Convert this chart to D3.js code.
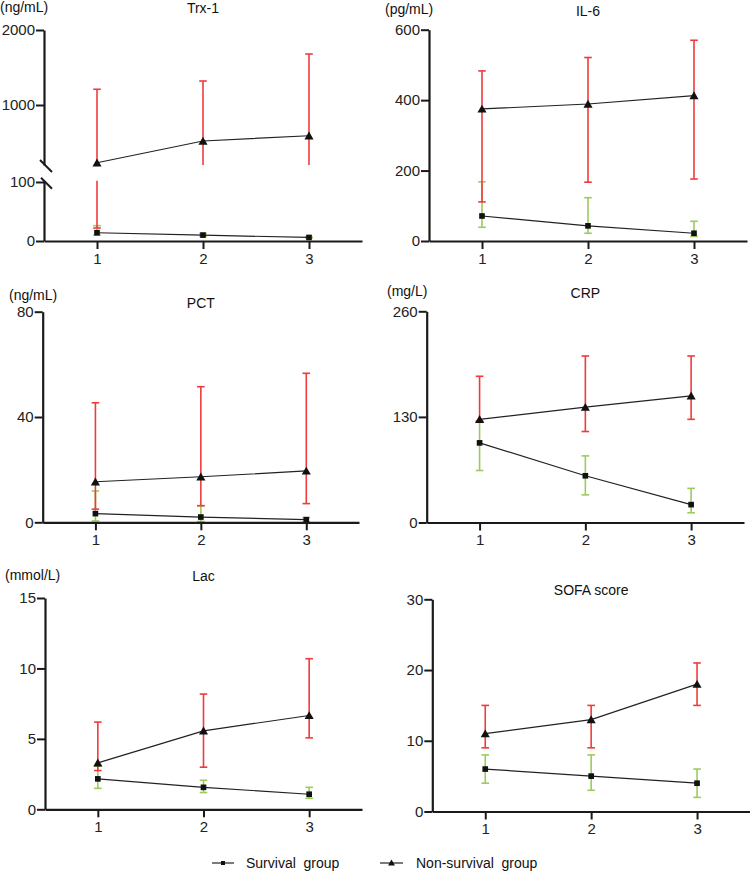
<!DOCTYPE html>
<html><head><meta charset="utf-8">
<script src="https://cdn.jsdelivr.net/npm/d3@7/dist/d3.min.js"></script>
<style>
body{margin:0;background:#fff;}
svg{display:block;font-family:"Liberation Sans",Arial,Helvetica,sans-serif;}
</style></head><body>
<svg id="chart" width="750" height="872"></svg>
<script>
// ---------- DATA ----------
const timePoints = [1, 2, 3];
const xTickLabels = ["1", "2", "3"];
const legendLabels = ["Survival  group", "Non-survival  group"];

// Trx-1 (ng/mL)
const trxSurv = [14, 10, 6];
const trxSurvHi = [26, 13, 7];
const trxSurvLo = [10, 8, 5];
const trxNon = [230, 520, 590];
const trxNonHi = [1210, 1320, 1680];
const trxNonLo = [22, 150, 160];
const trxTicksUpper = [1000, 2000];
const trxTicksLower = [0, 100];

// IL-6 (pg/mL)
const il6Surv = [71, 43, 22];
const il6SurvHi = [168, 123, 56];
const il6SurvLo = [39, 22, 13];
const il6Non = [375, 389, 413];
const il6NonHi = [483, 521, 570];
const il6NonLo = [111, 167, 176];
const il6Ticks = [0, 200, 400, 600];

// PCT (ng/mL)
const pctSurv = [3.3, 2.0, 1.0];
const pctSurvHi = [11.9, 6.3, 1.8];
const pctSurvLo = [0.5, 0.3, 0.2];
const pctNon = [15.4, 17.3, 19.5];
const pctNonHi = [45.4, 51.5, 56.6];
const pctNonLo = [5.0, 6.3, 7.1];
const pctTicks = [0, 40, 80];

// CRP (mg/L)
const crpSurv = [98, 57.5, 22];
const crpSurvHi = [124, 82, 42];
const crpSurvLo = [64, 34, 12];
const crpNon = [127, 142, 156];
const crpNonHi = [180, 205, 205];
const crpNonLo = [125, 112, 127];
const crpTicks = [0, 130, 260];

// Lac (mmol/L)
const lacSurv = [2.16, 1.56, 1.07];
const lacSurvHi = [3.06, 2.06, 1.56];
const lacSurvLo = [1.49, 1.19, 0.78];
const lacNon = [3.3, 5.57, 6.66];
const lacNonHi = [6.19, 8.18, 10.69];
const lacNonLo = [2.75, 2.99, 5.07];
const lacTicks = [0, 5, 10, 15];

// SOFA score
const sofaSurv = [6, 5, 4];
const sofaSurvHi = [8, 8, 6];
const sofaSurvLo = [4, 3, 2];
const sofaNon = [11, 13, 18];
const sofaNonHi = [15, 15, 21];
const sofaNonLo = [9, 9, 15];
const sofaTicks = [0, 10, 20, 30];

// ---------- STYLE ----------
const RED = "#ef3b3b";
const GREEN = "#9bcb5c";
const AXIS = "#1a1a1a";
const INK = "#111";

// ---------- PANELS ----------
const panels = [
  { title: "Trx-1", unit: "(ng/mL)", unitX: 0, unitY: 12, titleY: 13,
    x0: 44, x1: 362,
    segments: [
      { domain: [0, 102], range: [241, 180.8], ticks: trxTicksLower, breakTop: true },
      { domain: [200, 2000], range: [165, 30], ticks: trxTicksUpper, breakBottom: true }
    ],
    surv: trxSurv, survHi: trxSurvHi, survLo: trxSurvLo,
    non: trxNon, nonHi: trxNonHi, nonLo: trxNonLo },
  { title: "IL-6", unit: "(pg/mL)", unitX: 385, unitY: 14, titleY: 16,
    x0: 429, x1: 747,
    segments: [{ domain: [0, 600], range: [241, 29.7], ticks: il6Ticks }],
    surv: il6Surv, survHi: il6SurvHi, survLo: il6SurvLo,
    non: il6Non, nonHi: il6NonHi, nonLo: il6NonLo },
  { title: "PCT", unit: "(ng/mL)", unitX: 9, unitY: 300, titleY: 308,
    x0: 42.7, x1: 359,
    segments: [{ domain: [0, 80], range: [522.3, 311.7], ticks: pctTicks }],
    surv: pctSurv, survHi: pctSurvHi, survLo: pctSurvLo,
    non: pctNon, nonHi: pctNonHi, nonLo: pctNonLo },
  { title: "CRP", unit: "(mg/L)", unitX: 387, unitY: 296, titleY: 298,
    x0: 426.7, x1: 744,
    segments: [{ domain: [0, 260], range: [522.5, 311.3], ticks: crpTicks }],
    surv: crpSurv, survHi: crpSurvHi, survLo: crpSurvLo,
    non: crpNon, nonHi: crpNonHi, nonLo: crpNonLo },
  { title: "Lac", unit: "(mmol/L)", unitX: 5, unitY: 580, titleY: 581,
    x0: 45, x1: 362,
    segments: [{ domain: [0, 15], range: [809.3, 598], ticks: lacTicks }],
    surv: lacSurv, survHi: lacSurvHi, survLo: lacSurvLo,
    non: lacNon, nonHi: lacNonHi, nonLo: lacNonLo },
  { title: "SOFA score", unit: null, titleY: 595,
    x0: 432.3, x1: 750,
    segments: [{ domain: [0, 30], range: [811.5, 599.3], ticks: sofaTicks }],
    surv: sofaSurv, survHi: sofaSurvHi, survLo: sofaSurvLo,
    non: sofaNon, nonHi: sofaNonHi, nonLo: sofaNonLo }
];

const svg = d3.select("#chart");
const triangle = d3.symbol().type(d3.symbolTriangle).size(36);
const square = d3.symbol().type(d3.symbolSquare).size(32);

function drawPanel(p) {
  const g = svg.append("g");
  const x = d3.scaleLinear().domain([0.5, 3.5]).range([p.x0, p.x1]);
  const segs = p.segments.map(s => Object.assign({}, s, {
    scale: d3.scaleLinear().domain(s.domain).range(s.range)
  }));
  const segOf = v => segs.find(s => v >= s.domain[0] && v <= s.domain[1]) || segs[0];
  const y = v => segOf(v).scale(v);

  function errBars(lo, hi, color) {
    timePoints.forEach((t, i) => {
      const cx = x(t);
      segs.forEach(s => {
        const a = Math.max(lo[i], s.domain[0]), b = Math.min(hi[i], s.domain[1]);
        if (a > b) return;
        g.append("line").attr("x1", cx).attr("x2", cx)
          .attr("y1", s.scale(a)).attr("y2", s.scale(b))
          .attr("stroke", color).attr("stroke-width", 1.6);
        [lo[i], hi[i]].forEach(v => {
          if (v >= s.domain[0] && v <= s.domain[1]) {
            g.append("line").attr("x1", cx - 3.8).attr("x2", cx + 3.8)
              .attr("y1", s.scale(v)).attr("y2", s.scale(v))
              .attr("stroke", color).attr("stroke-width", 1.6);
          }
        });
      });
    });
  }
  errBars(p.survLo, p.survHi, GREEN);
  errBars(p.nonLo, p.nonHi, RED);

  const line = d3.line().x((d, i) => x(timePoints[i])).y(d => y(d));
  g.append("path").attr("d", line(p.surv)).attr("fill", "none")
    .attr("stroke", "#222").attr("stroke-width", 1.2);
  g.append("path").attr("d", line(p.non)).attr("fill", "none")
    .attr("stroke", "#222").attr("stroke-width", 1.2);

  p.surv.forEach((v, i) => {
    g.append("path").attr("d", square())
      .attr("transform", `translate(${x(timePoints[i])},${y(v)})`).attr("fill", INK);
  });
  p.non.forEach((v, i) => {
    g.append("path").attr("d", triangle())
      .attr("transform", `translate(${x(timePoints[i])},${y(v) + 1})`).attr("fill", INK);
  });

  // y axes (one per segment)
  segs.forEach(s => {
    const ax = g.append("g").attr("transform", `translate(${p.x0},0)`)
      .call(d3.axisLeft(s.scale).tickValues(s.ticks).tickSizeInner(8).tickSizeOuter(0).tickPadding(1)
        .tickFormat(d3.format("d")));
    ax.select(".domain").attr("stroke", AXIS).attr("stroke-width", 2.2);
    ax.selectAll(".tick line").attr("stroke", AXIS).attr("stroke-width", 2);
    ax.selectAll(".tick text").attr("fill", "#222").attr("font-size", 15)
      .attr("font-family", '"Liberation Sans",Arial,sans-serif');
    if (s.breakBottom) {
      const yy = s.range[0];
      g.append("line").attr("x1", p.x0 - 4).attr("x2", p.x0 + 8)
        .attr("y1", yy - 5).attr("y2", yy + 7).attr("stroke", AXIS).attr("stroke-width", 2);
    }
    if (s.breakTop) {
      const yy = s.range[1];
      g.append("line").attr("x1", p.x0 - 3).attr("x2", p.x0 + 8)
        .attr("y1", yy - 3).attr("y2", yy + 8).attr("stroke", AXIS).attr("stroke-width", 2);
    }
  });

  // x axis
  const yBase = segs[0].range[0];
  const xa = g.append("g").attr("transform", `translate(0,${yBase})`)
    .call(d3.axisBottom(x).tickValues(timePoints).tickSizeInner(8).tickSizeOuter(0).tickPadding(4)
      .tickFormat((d, i) => xTickLabels[i]));
  xa.select(".domain").attr("stroke", AXIS).attr("stroke-width", 2.2);
  xa.selectAll(".tick line").attr("stroke", AXIS).attr("stroke-width", 2);
  xa.selectAll(".tick text").attr("fill", "#222").attr("font-size", 15)
    .attr("font-family", '"Liberation Sans",Arial,sans-serif');

  // title & unit
  g.append("text").attr("x", (p.x0 + p.x1) / 2).attr("y", p.titleY)
    .attr("text-anchor", "middle").attr("font-size", 14).attr("fill", "#111").text(p.title);
  if (p.unit) {
    g.append("text").attr("x", p.unitX).attr("y", p.unitY)
      .attr("font-size", 14).attr("fill", "#111").text(p.unit);
  }
}

panels.forEach(drawPanel);

// ---------- LEGEND ----------
const legend = [
  { x1: 212, x2: 234, tx: 246, sym: square },
  { x1: 380, x2: 403, tx: 416, sym: triangle }
];
const ly = 863;
legend.forEach((l, i) => {
  svg.append("line").attr("x1", l.x1).attr("x2", l.x2).attr("y1", ly).attr("y2", ly)
    .attr("stroke", "#222").attr("stroke-width", 1.2);
  svg.append("path").attr("d", l.sym.size(i === 0 ? 16 : 20)())
    .attr("transform", `translate(${(l.x1 + l.x2) / 2},${ly + (i === 1 ? 0.5 : 0)})`).attr("fill", INK);
  svg.append("text").attr("x", l.tx).attr("y", ly + 5).attr("font-size", 14)
    .attr("fill", "#111").style("white-space", "pre").text(legendLabels[i]);
});
</script>
</body></html>
